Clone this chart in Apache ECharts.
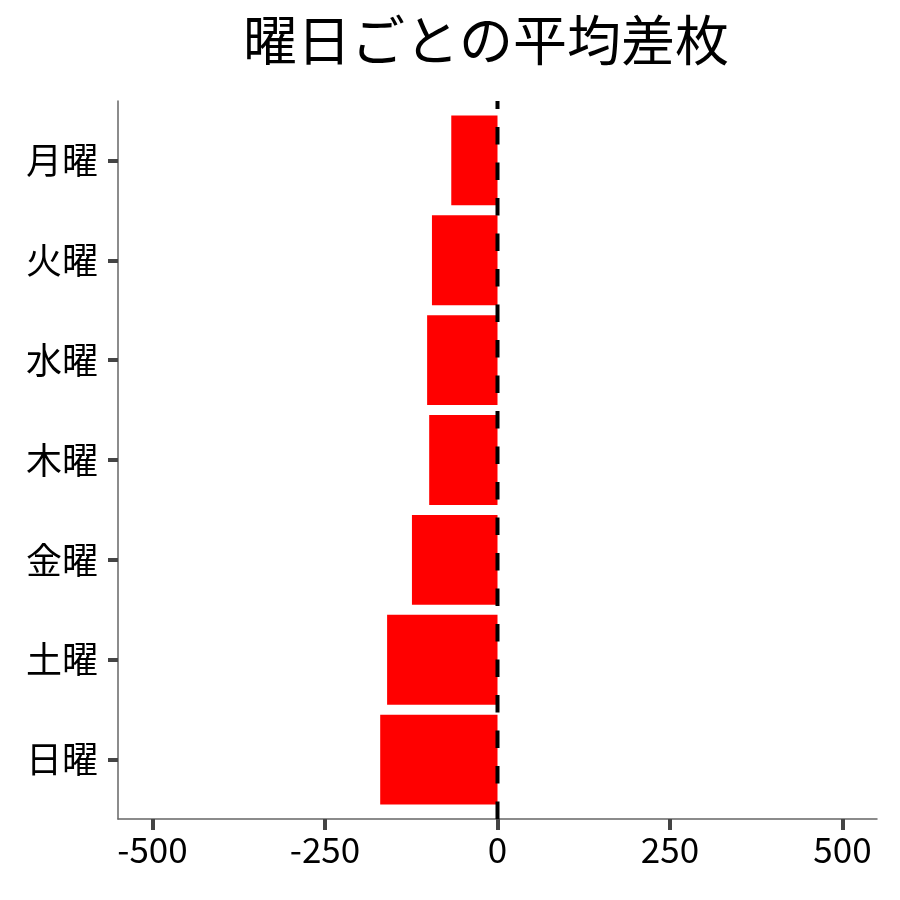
<!DOCTYPE html>
<html>
<head>
<meta charset="utf-8">
<title>曜日ごとの平均差枚</title>
<script src="https://cdn.jsdelivr.net/npm/echarts@6/dist/echarts.min.js"></script>
<style>
  html, body { margin: 0; padding: 0; background: #fff; }
  #chart { width: 900px; height: 900px; }
</style>
</head>
<body>
<div id="chart"></div>
<script>
// Data
var days = ['月曜', '火曜', '水曜', '木曜', '金曜', '土曜', '日曜'];
var avgDiff = [-67, -95, -102, -99, -124, -160, -170];
var xTickMin = -500;
var xTickMax = 500;
var xTickStep = 250;
var zeroLine = [[0, 0], [0, 1]];

document.addEventListener('DOMContentLoaded', function() {
  var chart = echarts.init(document.getElementById('chart'), null, {renderer: 'canvas'});
  var font = '"Noto Sans CJK JP", "Noto Sans", sans-serif';
  var tickStyle = {color: '#444', width: 4};
  var spineStyle = {color: '#666', width: 1.5};
  var hiddenLine = {show: true, onZero: false, lineStyle: {color: '#fff', opacity: 0}};

  var option = {
    animation: false,
    backgroundColor: '#ffffff',
    title: {
      text: '曜日ごとの平均差枚',
      left: 481,
      top: 8,
      textAlign: 'center',
      textStyle: {fontFamily: font, fontSize: 54, fontWeight: 'normal', color: '#000'}
    },
    grid: [
      // bars
      {left: 118, width: 759, top: 110.5, height: 699},
      // axis spines
      {left: 118, width: 759, top: 101, height: 718},
      // tick labels and zero line (-500..500)
      {left: 152.5, width: 690, top: 101, height: 718}
    ],
    xAxis: [
      {type: 'value', gridIndex: 0, min: -550, max: 550, show: false},
      {
        type: 'value', gridIndex: 1, min: -550, max: 550,
        axisLine: {show: true, onZero: false, lineStyle: spineStyle},
        axisTick: {show: false},
        axisLabel: {show: false},
        splitLine: {show: false}
      },
      {
        type: 'value', gridIndex: 2, min: xTickMin, max: xTickMax, interval: xTickStep,
        axisLine: hiddenLine,
        axisTick: {show: true, length: 11, lineStyle: tickStyle},
        axisLabel: {margin: 13, color: '#000', fontFamily: font, fontSize: 35},
        splitLine: {show: false}
      }
    ],
    yAxis: [
      {
        type: 'category', gridIndex: 0, data: days, inverse: true,
        axisLine: hiddenLine,
        axisTick: {show: true, alignWithLabel: true, length: 10, lineStyle: tickStyle},
        axisLabel: {margin: 20, color: '#000', fontFamily: font, fontSize: 36}
      },
      {
        type: 'value', gridIndex: 1, min: 0, max: 1,
        axisLine: {show: true, onZero: false, lineStyle: spineStyle},
        axisTick: {show: false},
        axisLabel: {show: false},
        splitLine: {show: false}
      },
      {type: 'value', gridIndex: 2, min: 0, max: 1, show: false}
    ],
    series: [
      {
        type: 'bar',
        xAxisIndex: 0, yAxisIndex: 0,
        data: avgDiff,
        barWidth: '90%',
        itemStyle: {color: '#ff0000'},
        z: 2
      },
      {
        type: 'line',
        xAxisIndex: 2, yAxisIndex: 2,
        data: zeroLine,
        symbol: 'none',
        silent: true,
        lineStyle: {color: '#000', width: 4, type: [17.5, 18]},
        z: 5
      }
    ]
  };

  chart.setOption(option);
});
</script>
</body>
</html>
